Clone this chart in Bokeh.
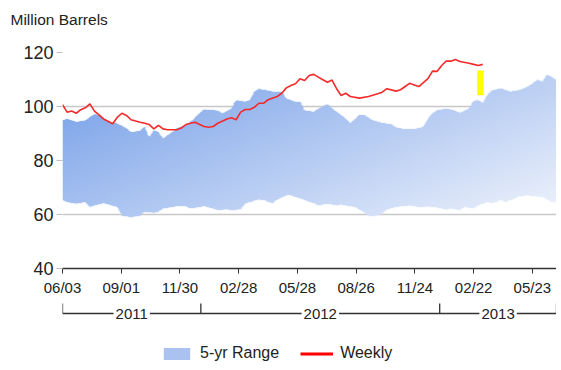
import numpy as np
import pandas as pd
from bokeh.plotting import figure
from bokeh.layouts import column
from bokeh.models import (Range1d, FixedTicker, DatetimeTickFormatter, Legend, LegendItem)
from bokeh.embed import file_html
from bokeh.resources import INLINE

# ---------------- data (weeks counted from base_date) ----------------
base_date = "2011-06-03"
x_end_date = "2013-06-29"

range_high_weeks = [0, 1, 3, 5, 7, 8, 10, 12, 14, 15, 17, 18, 19, 20, 21, 22, 24, 25, 27, 28,
                    30, 31, 33, 34, 35, 37, 38, 40, 41, 42, 43, 45, 46, 48, 49, 51, 52, 53, 55, 56,
                    58, 60, 62, 63, 65, 66, 68, 70, 72, 73, 75, 77, 79, 80, 81, 82, 84, 85, 86, 87,
                    89, 90, 91, 92, 93, 94, 96, 97, 98, 100, 101, 102, 104, 105, 106, 107, 108]
range_high = [94.8, 95.4, 94.2, 94.8, 97.0, 96.7, 94.2, 93.6, 91.7, 90.5, 90.9, 92.3, 88.6, 91.1, 90.5, 88.0, 90.5, 91.7, 93.0, 94.2,
              97.3, 98.8, 98.6, 98.3, 97.3, 99.1, 102.2, 101.6, 102.2, 105.3, 106.3, 105.7, 105.3, 105.3, 102.8, 101.6, 101.6, 98.5, 97.9, 99.1,
              100.7, 97.9, 95.4, 93.8, 96.7, 96.7, 94.8, 93.8, 93.3, 92.1, 91.4, 91.4, 92.3, 95.4, 97.3, 98.5, 99.1, 98.8, 98.3, 97.5,
              99.1, 102.0, 102.2, 101.2, 104.1, 105.7, 106.6, 105.9, 105.3, 105.9, 106.6, 107.4, 109.6, 109.0, 111.5, 110.9, 109.6]

range_low_weeks = [0, 1, 3, 5, 6, 7, 9, 10, 12, 13, 15, 17, 18, 20, 21, 22, 24, 25, 27, 28,
                   30, 31, 33, 34, 36, 37, 39, 40, 41, 43, 44, 46, 47, 49, 50, 52, 53, 55, 56, 58,
                   60, 61, 62, 64, 65, 67, 68, 70, 71, 73, 76, 78, 80, 81, 82, 84, 85, 87, 88, 90,
                   91, 93, 94, 96, 97, 99, 100, 102, 103, 105, 106, 107, 108]
range_low = [65.2, 64.6, 64.0, 64.6, 62.7, 63.3, 64.2, 63.7, 62.7, 59.6, 59.0, 59.6, 60.9, 60.5, 60.9, 62.1, 62.7, 63.0, 63.0, 62.1,
             62.7, 63.0, 62.1, 61.5, 61.8, 61.5, 61.8, 64.0, 64.6, 65.4, 65.2, 64.2, 65.4, 67.0, 67.0, 65.8, 65.2, 64.2, 63.3, 64.0,
             63.3, 63.7, 63.3, 62.7, 61.7, 59.6, 59.3, 60.2, 61.7, 62.7, 63.3, 62.7, 62.9, 62.7, 62.5, 61.7, 62.1, 61.5, 62.7, 62.1,
             63.3, 64.6, 64.2, 65.2, 64.6, 65.8, 66.7, 67.0, 66.7, 66.4, 65.4, 64.6, 64.6]

weekly_weeks = [0, 1, 2, 3, 4, 5, 6, 7, 8, 9, 11, 12, 13, 14, 15, 17, 18, 19, 20, 21,
                22, 23, 25, 26, 27, 28, 29, 31, 32, 33, 34, 36, 37, 38, 39, 40, 41, 42, 43, 44,
                45, 47, 48, 49, 50, 51, 52, 53, 54, 55, 56, 57, 58, 59, 60, 61, 62, 63, 65, 67,
                69, 70, 71, 73, 74, 75, 76, 77, 78, 80, 81, 82, 83, 84, 85, 86, 87, 89, 90, 91, 92]
weekly = [100.7, 97.9, 98.3, 97.5, 98.8, 99.5, 101.0, 98.3, 96.9, 95.4, 93.6, 96.0, 97.5, 96.7, 95.1, 94.2, 93.8, 93.3, 91.7, 93.0,
          91.7, 91.4, 91.4, 92.0, 93.3, 93.8, 94.2, 92.6, 92.3, 92.6, 93.8, 95.4, 95.8, 95.1, 97.9, 98.9, 98.9, 99.7, 101.2, 101.2,
          102.5, 103.7, 104.9, 106.9, 107.8, 108.4, 110.3, 109.6, 111.5, 111.9, 110.9, 109.9, 109.0, 109.8, 106.6, 104.1, 104.9, 103.7, 103.1, 103.7,
          104.7, 105.3, 106.6, 105.7, 106.2, 107.4, 108.6, 108.0, 107.4, 110.3, 113.1, 113.0, 115.2, 116.8, 116.8, 117.4, 116.7, 116.0, 115.6, 115.2, 115.6]

highlight_week = 91.5
highlight_low = 104.2
highlight_high = 113.3

x_tick_dates = ["2011-06-03", "2011-09-01", "2011-11-30", "2012-02-28", "2012-05-28",
                "2012-08-26", "2012-11-24", "2013-02-22", "2013-05-23"]
y_ticks = [40, 60, 80, 100, 120]
year_labels = ["2011", "2012", "2013"]
year_bounds = ["2011-06-03", "2012-01-01", "2013-01-01", "2013-06-29"]

# ---------------- helpers ----------------
EPOCH = pd.Timestamp("1970-01-01")
DAY_MS = 86400000.0


def ms(d):
    return (pd.Timestamp(d) - EPOCH) / pd.Timedelta(milliseconds=1)


def wk_to_ms(weeks):
    return ms(base_date) + np.asarray(weeks, dtype=float) * 7 * DAY_MS


FONT = "Liberation Sans"
TXT = "#222222"
x0, x1 = ms(base_date), ms(x_end_date)

p = figure(width=556, height=300, output_backend="svg", toolbar_location=None,
           x_axis_type="datetime", x_range=Range1d(x0, x1), y_range=Range1d(40, 120),
           min_border_left=62, min_border_right=0, min_border_top=52, min_border_bottom=32)
p.outline_line_color = None
p.background_fill_color = "white"
p.border_fill_color = "white"

# title: an empty second line lifts the text to the top-left corner
p.title.text = "Million Barrels\n "
p.title.align = "left"
p.title.offset = -52
p.title.vertical_align = "bottom"
p.title.standoff = 15
p.title.text_font = FONT
p.title.text_font_size = "15.5px"
p.title.text_font_style = "normal"
p.title.text_color = TXT

# ---------------- 5-yr range band (gradient image masked to the band) ----------------
nx, ny = 700, 300
iy0, iy1 = 56.0, 114.0
xc = x0 + (np.arange(nx) + 0.5) * (x1 - x0) / nx
yc = iy0 + (np.arange(ny) + 0.5) * (iy1 - iy0) / ny
up = np.interp(xc, wk_to_ms(range_high_weeks), range_high)
lo = np.interp(xc, wk_to_ms(range_low_weeks), range_low)
dy = (iy1 - iy0) / ny
Y = yc[:, None]
alpha = np.clip((up[None, :] - Y) / dy + 0.5, 0, 1) * np.clip((Y - lo[None, :]) / dy + 0.5, 0, 1)
u = ((xc - x0) / (x1 - x0))[None, :]
v = (iy1 - Y) / (iy1 - iy0)
t = np.clip(0.55 * u + 0.45 * v, 0, 1)
c0 = np.array([112, 155, 231], dtype=float)
c1 = np.array([242, 245, 252], dtype=float)
rgb = c0[None, None, :] + (c1 - c0)[None, None, :] * t[..., None]
img = np.zeros((ny, nx), dtype=np.uint32)
view = img.view(dtype=np.uint8).reshape((ny, nx, 4))
view[..., 0:3] = np.round(rgb).astype(np.uint8)
view[..., 3] = np.round(alpha * 255).astype(np.uint8)
p.image_rgba(image=[img], x=x0, y=iy0, dw=x1 - x0, dh=iy1 - iy0)

# ---------------- weekly line ----------------
LINE_RED = "#f42a2a"
p.line(wk_to_ms(weekly_weeks), weekly, line_color=LINE_RED, line_width=1.6)

# yellow highlight mark
p.vbar(x=wk_to_ms([highlight_week]), width=1.4 * 7 * DAY_MS,
       top=[highlight_high], bottom=[highlight_low], fill_color="#ffff00", line_color=None)

# ---------------- axes ----------------
xa = p.xaxis[0]
xa.ticker = FixedTicker(ticks=[ms(d) for d in x_tick_dates])
xa.formatter = DatetimeTickFormatter(days="%m/%d", months="%m/%d", years="%m/%d",
                                     hours="%m/%d", minutes="%m/%d", seconds="%m/%d",
                                     milliseconds="%m/%d", microseconds="%m/%d",
                                     hourmin="%m/%d", minsec="%m/%d", context=None)
xa.axis_line_color = "#333333"
xa.axis_line_width = 1.3
xa.major_tick_out = 5
xa.major_tick_in = 0
xa.major_tick_line_color = "#333333"
xa.minor_tick_line_color = None
xa.major_label_text_font = FONT
xa.major_label_text_font_size = "15px"
xa.major_label_text_color = TXT
xa.major_label_standoff = 5

ya = p.yaxis[0]
ya.ticker = FixedTicker(ticks=y_ticks)
ya.axis_line_color = None
ya.major_tick_out = 6
ya.major_tick_in = 0
ya.major_tick_line_color = "#c0c0c0"
ya.minor_tick_line_color = None
ya.major_label_text_font = FONT
ya.major_label_text_font_size = "18px"
ya.major_label_text_color = TXT
ya.major_label_standoff = 3

p.xgrid.grid_line_color = None
p.ygrid.ticker = FixedTicker(ticks=y_ticks)
p.ygrid.grid_line_color = "#c8c8c8"
p.ygrid.grid_line_width = 1.5

# ---------------- lower strip: year brackets + legend ----------------
q = figure(width=556, height=62, output_backend="svg", toolbar_location=None,
           x_range=p.x_range, y_range=Range1d(0, 62),
           x_axis_location=None, y_axis_location=None,
           min_border_left=62, min_border_right=0, min_border_top=0, min_border_bottom=0)
q.outline_line_color = None
q.xgrid.visible = False
q.ygrid.visible = False
q.background_fill_color = "white"
q.border_fill_color = "white"

BR_Y, BR_TOP = 49, 59
bounds_ms = [ms(d) for d in year_bounds]
q.segment(x0=[bounds_ms[0]], y0=[BR_Y], x1=[bounds_ms[-1]], y1=[BR_Y],
          line_color="#333333", line_width=1.3)
q.segment(x0=bounds_ms, y0=[BR_Y] * len(bounds_ms), x1=bounds_ms, y1=[BR_TOP] * len(bounds_ms),
          line_color="#333333", line_width=1.3)
mids = [(bounds_ms[i] + bounds_ms[i + 1]) / 2 for i in range(len(year_labels))]
q.text(x=mids, y=[BR_Y] * len(mids), text=year_labels, text_align="center",
       text_baseline="middle", text_font={"value": FONT}, text_font_size="15px",
       text_color=TXT, background_fill_color="white", padding=2)

# legend proxies (no visible mark: NaN coordinates, only the legend swatch is drawn)
r_band = q.patch(x=[np.nan, np.nan, np.nan], y=[np.nan, np.nan, np.nan],
                 fill_color="#a9c2f0", line_color=None)
r_line = q.line(x=[np.nan, np.nan], y=[np.nan, np.nan], line_color="#ff0000", line_width=3)
legend = Legend(items=[LegendItem(label="5-yr Range", renderers=[r_band]),
                       LegendItem(label="Weekly", renderers=[r_line])],
                location=(98, 0), orientation="horizontal",
                glyph_width=33, glyph_height=15, label_height=18, label_standoff=7,
                spacing=21, padding=0, margin=0,
                label_text_font=FONT, label_text_font_size="16px", label_text_color=TXT,
                border_line_color=None, background_fill_alpha=0)
q.add_layout(legend)

layout = column(p, q, spacing=0)
open("out.html", "w").write(file_html(layout, INLINE))
